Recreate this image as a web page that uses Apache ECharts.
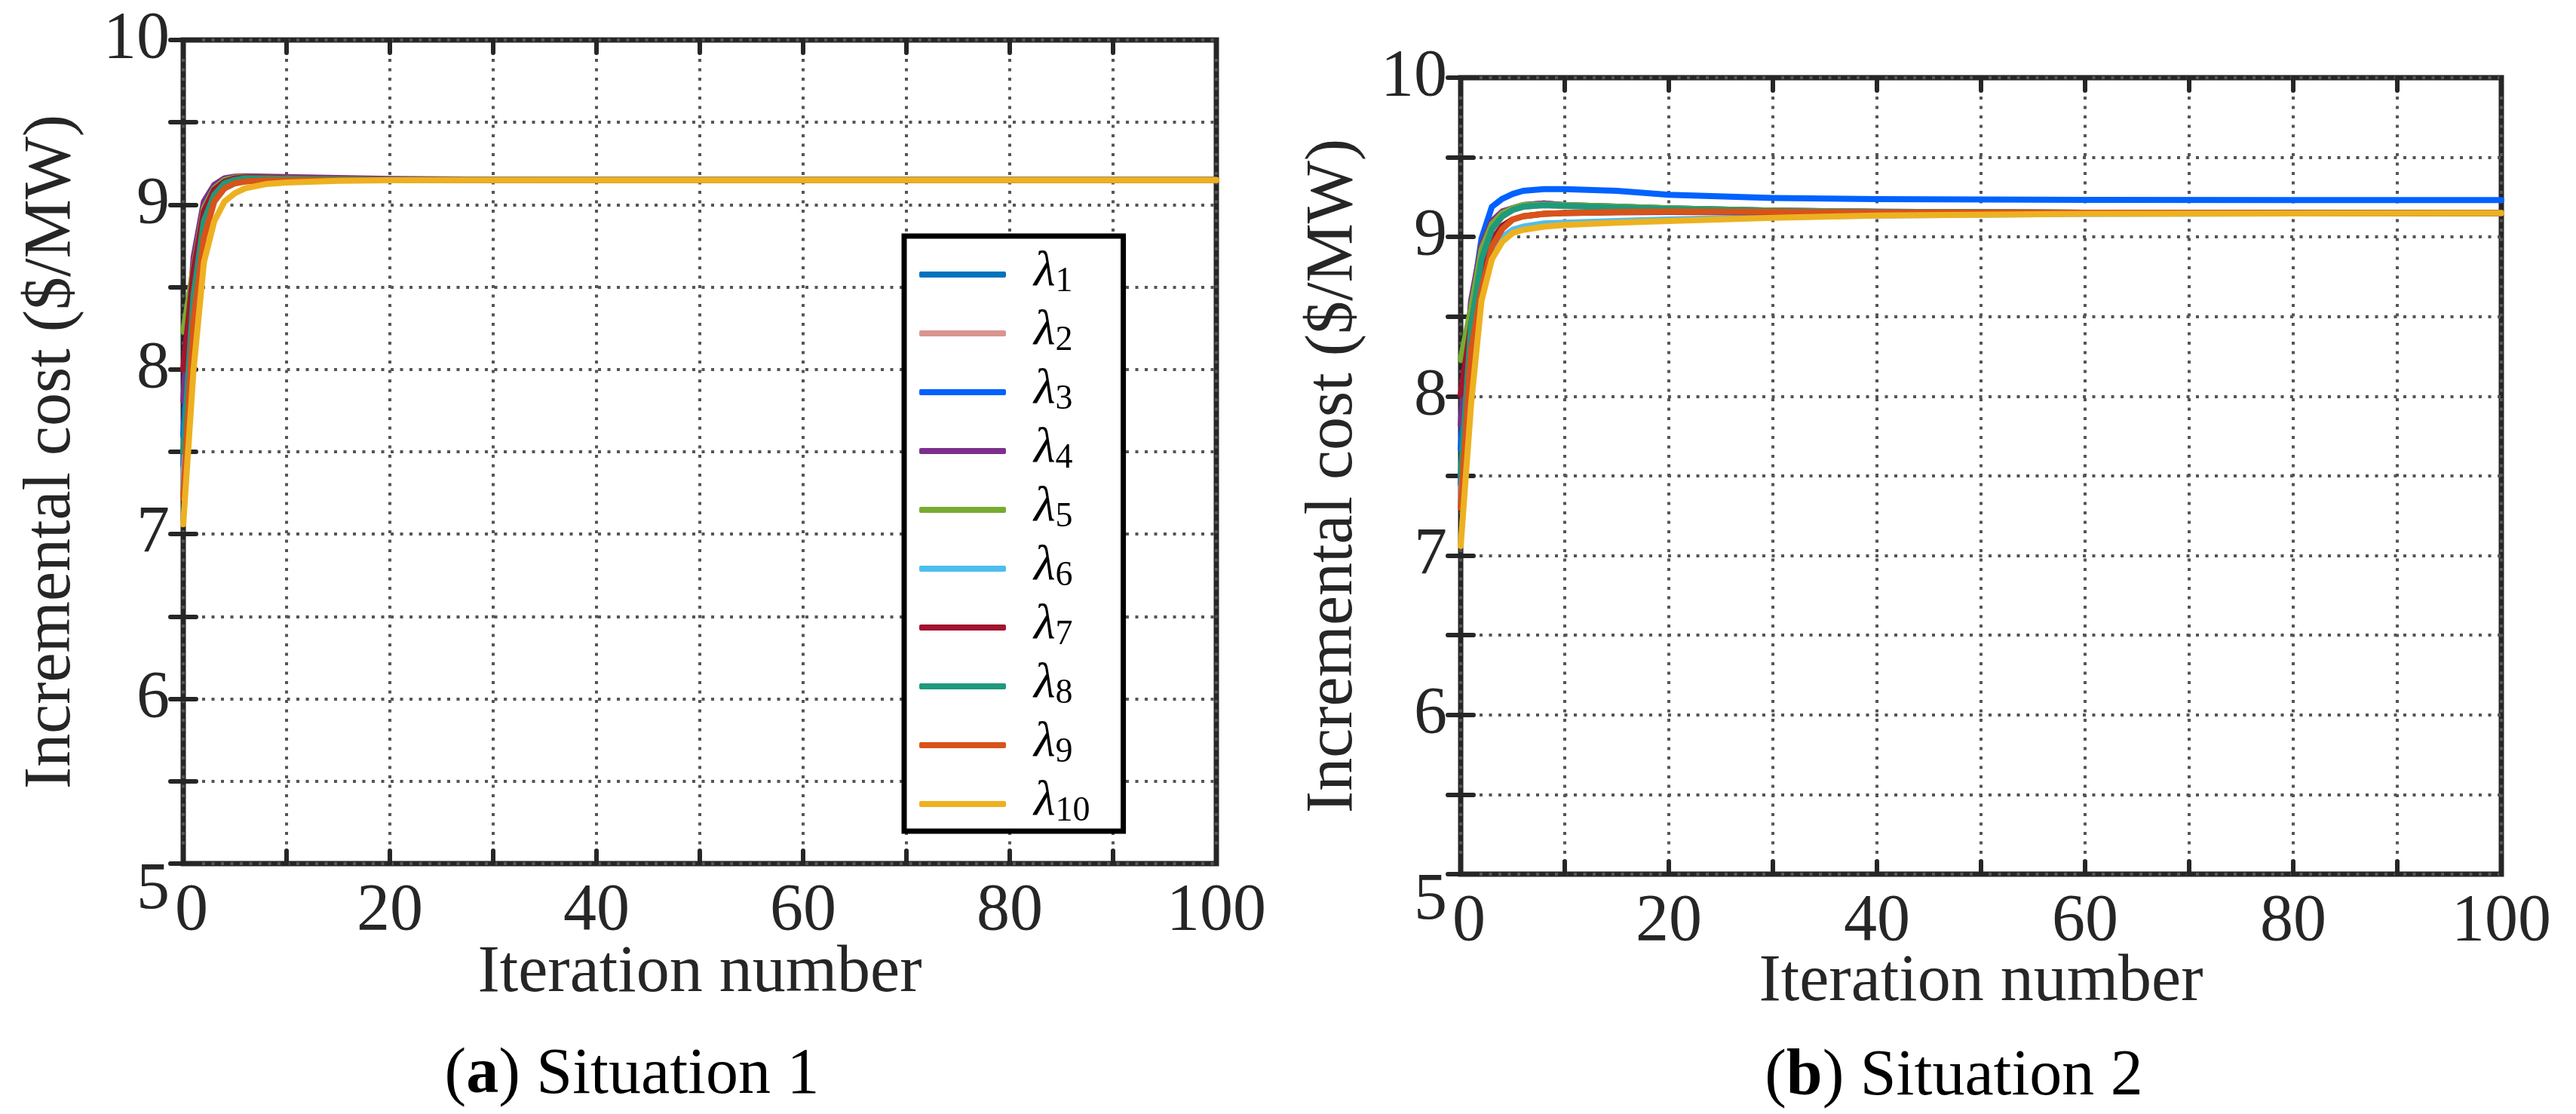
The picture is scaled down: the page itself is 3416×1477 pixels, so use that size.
<!DOCTYPE html>
<html>
<head>
<meta charset="utf-8">
<script src="https://cdn.jsdelivr.net/npm/echarts@6/dist/echarts.min.js"></script>
<style>
html,body{margin:0;padding:0;background:#fff;}
#c{width:3416px;height:1477px;}
</style>
</head>
<body>
<div id="c"></div>
<script>
// ---------------- data ----------------
const iterations = [0, 1, 2, 3, 4, 5, 6, 8, 10, 15, 20, 30, 40, 60, 80, 100];
const seriesNames = ['λ1','λ2','λ3','λ4','λ5','λ6','λ7','λ8','λ9','λ10'];
const seriesColors = ['#0072BD','#D9958F','#0062FF','#7E2F8E','#77AC30','#4DBEEE','#A2142F','#1E9A7C','#D95319','#EDB120'];
const xTickLabels = ['0','20','40','60','80','100'];
const yTickLabels = ['5','6','7','8','9','10'];

// Situation 1
const s1_l1  = [7.42, 8.50, 8.93, 9.08, 9.14, 9.16, 9.165, 9.165, 9.16, 9.155, 9.152, 9.15, 9.15, 9.15, 9.15, 9.15];
const s1_l2  = [7.32, 8.42, 8.88, 9.05, 9.12, 9.15, 9.16, 9.16, 9.158, 9.155, 9.152, 9.15, 9.15, 9.15, 9.15, 9.15];
const s1_l3  = [7.60, 8.55, 8.95, 9.09, 9.14, 9.16, 9.165, 9.165, 9.16, 9.155, 9.151, 9.15, 9.15, 9.15, 9.15, 9.15];
const s1_l4  = [7.81, 8.68, 9.02, 9.12, 9.16, 9.17, 9.172, 9.17, 9.168, 9.162, 9.156, 9.152, 9.15, 9.15, 9.15, 9.15];
const s1_l5  = [8.23, 8.62, 8.98, 9.10, 9.15, 9.165, 9.168, 9.165, 9.16, 9.155, 9.152, 9.15, 9.15, 9.15, 9.15, 9.15];
const s1_l6  = [7.28, 8.30, 8.82, 9.02, 9.10, 9.13, 9.145, 9.15, 9.15, 9.15, 9.15, 9.15, 9.15, 9.15, 9.15, 9.15];
const s1_l7  = [8.00, 8.60, 8.96, 9.09, 9.14, 9.16, 9.165, 9.165, 9.16, 9.155, 9.152, 9.15, 9.15, 9.15, 9.15, 9.15];
const s1_l8  = [7.50, 8.45, 8.90, 9.06, 9.13, 9.15, 9.16, 9.16, 9.158, 9.154, 9.151, 9.15, 9.15, 9.15, 9.15, 9.15];
const s1_l9  = [7.22, 8.30, 8.80, 9.02, 9.10, 9.13, 9.14, 9.148, 9.15, 9.15, 9.15, 9.15, 9.15, 9.15, 9.15, 9.15];
const s1_l10 = [7.06, 8.00, 8.65, 8.90, 9.02, 9.07, 9.10, 9.125, 9.135, 9.145, 9.148, 9.15, 9.15, 9.15, 9.15, 9.15];

// Situation 2
const s2_l1  = [7.45, 8.47, 8.88, 9.07, 9.15, 9.18, 9.20, 9.21, 9.20, 9.19, 9.18, 9.165, 9.158, 9.152, 9.15, 9.15];
const s2_l2  = [7.35, 8.40, 8.85, 9.05, 9.13, 9.17, 9.19, 9.20, 9.195, 9.185, 9.175, 9.163, 9.157, 9.152, 9.15, 9.15];
const s2_l3  = [7.67, 8.54, 8.99, 9.19, 9.24, 9.27, 9.29, 9.30, 9.30, 9.29, 9.265, 9.245, 9.238, 9.233, 9.232, 9.232];
const s2_l4  = [7.82, 8.60, 8.95, 9.10, 9.16, 9.18, 9.20, 9.21, 9.20, 9.19, 9.18, 9.165, 9.158, 9.152, 9.15, 9.15];
const s2_l5  = [8.23, 8.55, 8.92, 9.08, 9.15, 9.18, 9.20, 9.205, 9.20, 9.19, 9.18, 9.165, 9.157, 9.152, 9.15, 9.15];
const s2_l6  = [7.33, 8.20, 8.70, 8.92, 9.00, 9.045, 9.065, 9.085, 9.09, 9.10, 9.11, 9.125, 9.135, 9.145, 9.148, 9.15];
const s2_l7  = [8.01, 8.45, 8.80, 8.98, 9.07, 9.11, 9.13, 9.145, 9.15, 9.155, 9.157, 9.155, 9.152, 9.15, 9.15, 9.15];
const s2_l8  = [7.50, 8.44, 8.86, 9.05, 9.13, 9.17, 9.19, 9.20, 9.195, 9.185, 9.175, 9.163, 9.157, 9.152, 9.15, 9.15];
const s2_l9  = [7.30, 8.29, 8.67, 8.94, 9.05, 9.11, 9.13, 9.145, 9.15, 9.157, 9.16, 9.158, 9.155, 9.152, 9.15, 9.15];
const s2_l10 = [7.06, 7.95, 8.60, 8.86, 8.97, 9.025, 9.045, 9.065, 9.075, 9.09, 9.10, 9.12, 9.135, 9.145, 9.148, 9.15];

const situation1 = [s1_l1, s1_l2, s1_l3, s1_l4, s1_l5, s1_l6, s1_l7, s1_l8, s1_l9, s1_l10];
const situation2 = [s2_l1, s2_l2, s2_l3, s2_l4, s2_l5, s2_l6, s2_l7, s2_l8, s2_l9, s2_l10];

// ---------------- styling ----------------
const FONT = 'Liberation Serif';
const INK = '#262626';
const gridDefs = [
  {left: 243, top: 53, width: 1370, height: 1092},
  {left: 1937, top: 103, width: 1380, height: 1056}
];

const chart = echarts.init(document.getElementById('c'), null, {renderer: 'canvas'});

function pairs(ys) { return iterations.map((x, i) => [x, ys[i]]); }

const tickStyle = {show: true, inside: true, length: 17, lineStyle: {color: INK, width: 6, cap: 'round'}};
const gridLineStyle = {show: true, lineStyle: {color: '#555', width: 4, type: [4, 8.5]}};
const labelFont = {fontFamily: FONT, fontSize: 88, color: INK};

const xAxes = [], yAxes = [], grids = [], series = [];
gridDefs.forEach((g, gi) => {
  grids.push(Object.assign({show: true, borderColor: INK, borderWidth: 7, backgroundColor: '#fff', containLabel: false}, g));
  xAxes.push({
    type: 'value', gridIndex: gi, min: 0, max: 100, interval: 10, position: 'bottom',
    name: 'Iteration number', nameLocation: 'middle', nameGap: gi === 0 ? 102 : 100,
    nameMoveOverlap: false,
    nameTextStyle: {fontFamily: FONT, fontSize: 88, color: INK},
    axisLine: {show: false},
    axisTick: tickStyle,
    axisLabel: Object.assign({show: true, margin: 20, showMinLabel: true, showMaxLabel: true,
      formatter: v => {
        const s = String(v);
        if (xTickLabels.indexOf(s) < 0) return '';
        return v === 0 ? '{z|' + s + '}' : s;
      },
      rich: {z: Object.assign({padding: [0, 0, 0, 22]}, labelFont)}}, labelFont),
    splitLine: gridLineStyle
  });
  xAxes.push({
    type: 'value', gridIndex: gi, min: 0, max: 100, interval: 10, position: 'top',
    axisLine: {show: false}, axisTick: tickStyle,
    axisLabel: {show: false}, splitLine: {show: false}
  });
  yAxes.push({
    type: 'value', gridIndex: gi, min: 5, max: 10, interval: 0.5, position: 'left',
    name: 'Incremental cost ($/MW)', nameLocation: 'middle', nameGap: gi === 0 ? 130 : 124,
    nameMoveOverlap: false,
    nameTextStyle: {fontFamily: FONT, fontSize: 88, color: INK},
    axisLine: {show: false}, axisTick: tickStyle,
    axisLabel: Object.assign({show: true, margin: 18,
      formatter: v => {
        const s = String(v);
        if (yTickLabels.indexOf(s) < 0) return '';
        return v === 5 ? '{low|' + s + '}' : s;
      },
      rich: {low: Object.assign({padding: [72, 0, 0, 0]}, labelFont)}}, labelFont),
    splitLine: gridLineStyle
  });
  yAxes.push({
    type: 'value', gridIndex: gi, min: 5, max: 10, interval: 0.5, position: 'right',
    axisLine: {show: false}, axisTick: tickStyle,
    axisLabel: {show: false}, splitLine: {show: false}
  });
});

[situation1, situation2].forEach((sit, gi) => {
  sit.forEach((ys, k) => {
    series.push({
      type: 'line', name: seriesNames[k], xAxisIndex: gi * 2, yAxisIndex: gi * 2,
      data: pairs(ys), showSymbol: false, symbol: 'none', smooth: false, clip: false,
      lineStyle: {color: seriesColors[k], width: 8, cap: 'round', join: 'round'},
      itemStyle: {color: seriesColors[k]},
      emphasis: {disabled: true}, animation: false, z: 3
    });
  });
});

const option = {
  backgroundColor: '#fff',
  animation: false,
  textStyle: {fontFamily: FONT},
  grid: grids,
  xAxis: xAxes,
  yAxis: yAxes,
  series: series,
  legend: {
    data: seriesNames,
    orient: 'vertical',
    left: 1199, top: 313,
    backgroundColor: '#fff',
    borderColor: '#000', borderWidth: 7, borderRadius: 0,
    padding: [15, 44, 0, 20],
    itemWidth: 115, itemHeight: 8, itemGap: 6,
    icon: 'roundRect',
    selectedMode: false,
    formatter: name => '{l|λ}{s|' + name.slice(1) + '}',
    textStyle: {
      fontFamily: FONT, color: '#000',
      rich: {
        l: {fontFamily: FONT, fontStyle: 'italic', fontSize: 66, lineHeight: 66, color: '#000', padding: [0, 0, 6, 32], verticalAlign: 'middle'},
        s: {fontFamily: FONT, fontSize: 46, lineHeight: 46, color: '#000', verticalAlign: 'bottom'}
      }
    }
  },
  graphic: [
    {type: 'text', x: 838, y: 1426,
     style: {text: '{p|(}{b|a}{p|) Situation 1}', align: 'center', verticalAlign: 'middle',
       rich: {p: {fontFamily: FONT, fontSize: 86, color: '#000'}, b: {fontFamily: FONT, fontSize: 86, fontWeight: 'bold', color: '#000'}}}},
    {type: 'text', x: 2591, y: 1428,
     style: {text: '{p|(}{b|b}{p|) Situation 2}', align: 'center', verticalAlign: 'middle',
       rich: {p: {fontFamily: FONT, fontSize: 86, color: '#000'}, b: {fontFamily: FONT, fontSize: 86, fontWeight: 'bold', color: '#000'}}}}
  ]
};
chart.setOption(option);
</script>
</body>
</html>
